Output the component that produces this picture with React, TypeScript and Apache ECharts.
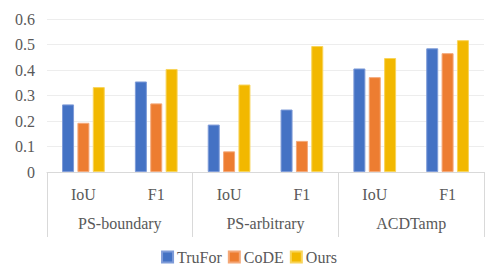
import React, { useEffect, useRef } from "react";
import * as echarts from "echarts";

const metrics = ["IoU", "F1", "IoU", "F1", "IoU", "F1"];
const datasets = ["PS-boundary", "PS-arbitrary", "ACDTamp"];
const truFor = [0.265, 0.355, 0.186, 0.245, 0.406, 0.485];
const code = [0.193, 0.269, 0.081, 0.122, 0.372, 0.466];
const ours = [0.333, 0.404, 0.343, 0.494, 0.447, 0.517];
const yTicks = [0, 0.1, 0.2, 0.3, 0.4, 0.5, 0.6];

const FONT = "Liberation Serif";
const TEXT = "#595959";

export default function App() {
  const ref = useRef<HTMLDivElement>(null);
  useEffect(() => {
    if (!ref.current) return;
    const chart = echarts.init(ref.current, undefined, { renderer: "svg" });
    const mk = (name: string, data: number[], color: string, border: string) => ({
      name,
      type: "bar",
      data,
      barWidth: 12,
      barGap: "28%",
      itemStyle: { color, borderColor: border, borderWidth: 1 },
    });
    chart.setOption({
      animation: false,
      textStyle: { fontFamily: FONT },
      grid: { left: 47, right: 14, top: 19, bottom: 108, containLabel: false },
      legend: {
        bottom: 10,
        left: "center",
        itemWidth: 11,
        itemHeight: 11,
        itemGap: 6,
        icon: "rect",
        textStyle: { fontFamily: FONT, fontSize: 16, color: TEXT, padding: [0, 0, 0, -1] },
        data: ["TruFor", "CoDE", "Ours"],
      },
      xAxis: [
        {
          type: "category",
          data: metrics,
          position: "bottom",
          axisLine: { show: true, lineStyle: { color: "#D9D9D9" } },
          axisTick: { show: false },
          axisLabel: { fontFamily: FONT, fontSize: 16, color: TEXT, margin: 14 },
        },
        {
          type: "category",
          data: datasets,
          position: "bottom",
          axisLine: { show: false },
          axisTick: { show: true, length: 65, alignWithLabel: false, lineStyle: { color: "#D9D9D9" } },
          axisLabel: { fontFamily: FONT, fontSize: 16, color: TEXT, margin: 43 },
          splitLine: { show: false },
        },
      ],
      yAxis: {
        type: "value",
        min: yTicks[0],
        max: yTicks[yTicks.length - 1],
        interval: 0.1,
        axisLine: { show: false },
        axisTick: { show: false },
        axisLabel: {
          fontFamily: FONT,
          fontSize: 16,
          color: TEXT,
          margin: 12,
          formatter: (v: number) => (v === 0 ? "0" : String(Math.round(v * 10) / 10)),
        },
        splitLine: { lineStyle: { color: "#EDEDED" } },
      },
      series: [
        mk("TruFor", truFor, "#4472C4", "#7E9BD8"),
        mk("CoDE", code, "#ED7D31", "#F4A878"),
        mk("Ours", ours, "#F2B800", "#F8D45A"),
      ],
    });
    return () => chart.dispose();
  }, []);
  return (
    <div
      ref={ref}
      style={{ position: "absolute", left: 0, top: 0, width: 498, height: 280 }}
    />
  );
}
